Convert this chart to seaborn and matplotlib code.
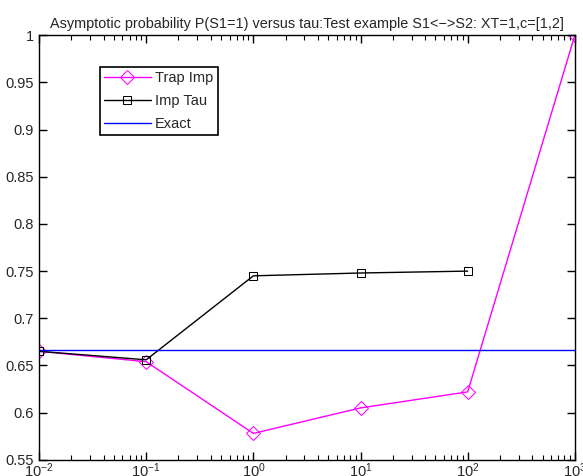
import matplotlib
matplotlib.use("Agg")
import matplotlib.pyplot as plt
import seaborn as sns
import pandas as pd
import numpy as np

tau = [0.01, 0.1, 1, 10, 100, 1000]
trap_imp = [0.665, 0.654, 0.578, 0.605, 0.622, 1.0]
tau_imp = [0.01, 0.1, 1, 10, 100]
imp_tau = [0.665, 0.656, 0.745, 0.748, 0.750]
exact_val = 2.0 / 3.0

sns.set_style("ticks", {"xtick.direction": "in", "ytick.direction": "in"})
plt.rcParams['font.family'] = ['Liberation Sans', 'DejaVu Sans']

fig = plt.figure(figsize=(5.83, 4.76), dpi=100)
ax = fig.add_axes([0.067, 0.034, 0.919, 0.892])

df1 = pd.DataFrame({"tau": tau, "p": trap_imp})
df2 = pd.DataFrame({"tau": tau_imp, "p": imp_tau})
df3 = pd.DataFrame({"tau": [tau[0], tau[-1]], "p": [exact_val, exact_val]})

sns.lineplot(data=df1, x="tau", y="p", ax=ax, color="#ff00ff", marker="D",
             markersize=7, markerfacecolor="none", markeredgecolor="#ff00ff",
             linewidth=1, label="Trap Imp")
sns.lineplot(data=df2, x="tau", y="p", ax=ax, color="black", marker="s",
             markersize=6, markerfacecolor="none", markeredgecolor="black",
             linewidth=1, label="Imp Tau")
sns.lineplot(data=df3, x="tau", y="p", ax=ax, color="#0000ff",
             linewidth=1, label="Exact")

ax.set_xscale("log")
ax.set_xlim(0.01, 1000)
ax.set_ylim(0.55, 1.0)
ax.set_yticks(np.arange(0.55, 1.0001, 0.05))
ax.set_yticklabels(["0.55", "0.6", "0.65", "0.7", "0.75", "0.8", "0.85", "0.9", "0.95", "1"])
ax.set_xlabel("")
ax.set_ylabel("")
for axis in (ax.xaxis, ax.yaxis):
    axis.set_tick_params(which="both", direction="in", color="black")
ax.tick_params(which="both", top=True, right=True, bottom=True, left=True,
               labelsize=10.5)
ax.tick_params(which="major", length=6, width=1)
ax.tick_params(which="minor", length=3.5, width=0.8)
ax.tick_params(axis="x", which="major", pad=1)
ax.tick_params(axis="y", which="major", pad=4)
for s in ax.spines.values():
    s.set_visible(True)
    s.set_color("black")
    s.set_linewidth(1)
ax.set_title("Asymptotic probability P(S1=1) versus tau:Test example S1<\u2212>S2: XT=1,c=[1,2]",
             fontsize=10.4, pad=5)
leg = ax.legend(loc="upper left", bbox_to_anchor=(0.113, 0.925), fancybox=False,
                framealpha=1, edgecolor="black", fontsize=10.5, borderpad=0.3,
                labelspacing=0.6, handlelength=3.2, handletextpad=0.3,
                borderaxespad=0)
leg.get_frame().set_linewidth(1.2)
fig.savefig("out.png", dpi=100)
